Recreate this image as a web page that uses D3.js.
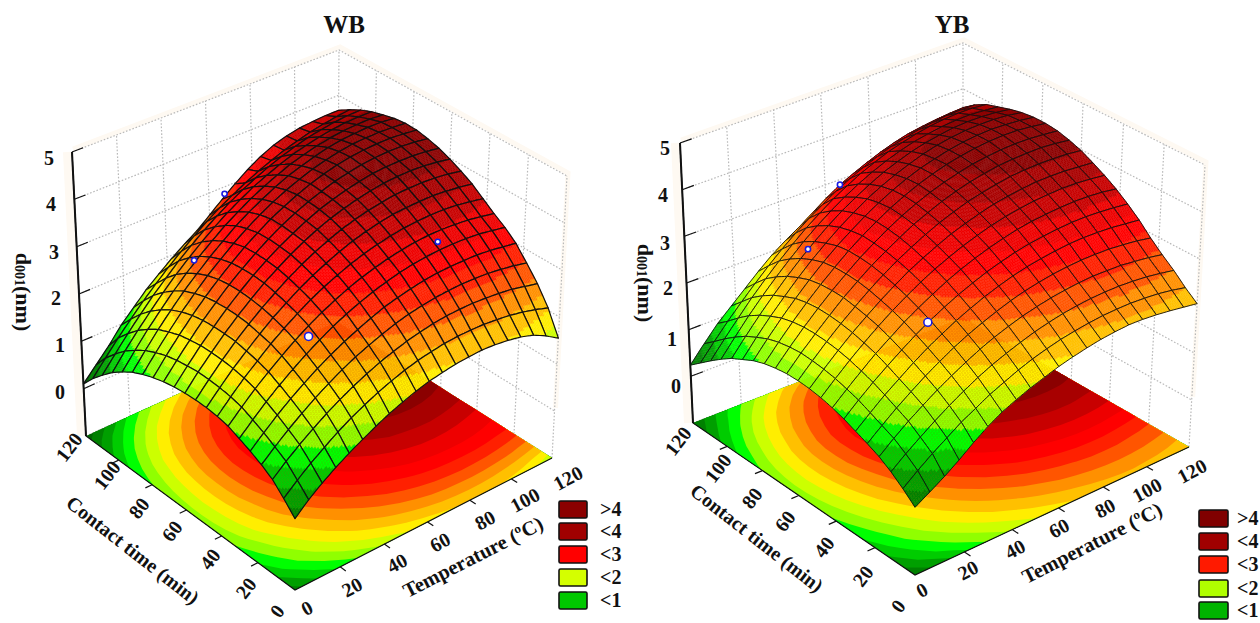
<!DOCTYPE html>
<html>
<head>
<meta charset="utf-8">
<script src="https://cdn.jsdelivr.net/npm/d3@7"></script>
<style>
  html, body { margin: 0; padding: 0; background: #fff; overflow: hidden; }
  svg { display: block; }
  text { font-family: "Liberation Serif", serif; font-weight: bold; fill: #111; }
</style>
</head>
<body>
<svg id="chart" width="1260" height="623"></svg>
<script>
const tempTicks = [0, 20, 40, 60, 80, 100, 120];
const timeTicks = [0, 20, 40, 60, 80, 100, 120];
const zTicks = [0, 1, 2, 3, 4, 5];
const legendLabels = [">4", "<4", "<3", "<2", "<1"];
const wbLegendColors = ["#8b0000", "#a00000", "#ff0000", "#d4ff00", "#00c800"];
const ybLegendColors = ["#800000", "#a00000", "#ff1a00", "#b0ff00", "#00b400"];

const bandLevels = [0.25, 0.5, 0.75, 1, 1.25, 1.5, 1.75, 2, 2.25, 2.5, 2.75, 3, 3.25, 3.5, 3.75, 4];
const bandColors = ["#006400", "#008000", "#009f00", "#00cc00", "#00ff00", "#90ff00", "#ccff00", "#ffee00",
  "#ffc000", "#ff9000", "#ff5500", "#ff2000", "#ff0000", "#ee0000", "#c80000", "#a80000", "#8b0000"];

// d001, one row per contact time step (0..120 by 6), one column per temperature step
const wbValues = [
  [0.38,0.62,0.82,1.00,1.16,1.31,1.45,1.58,1.69,1.79,1.87,1.93,1.98,2.01,2.03,2.02,1.99,1.94,1.86,1.72,1.55],
  [0.62,0.85,1.06,1.25,1.43,1.59,1.73,1.86,1.97,2.07,2.15,2.21,2.26,2.29,2.30,2.30,2.28,2.25,2.20,2.13,2.05],
  [0.84,1.07,1.28,1.47,1.65,1.81,1.96,2.09,2.21,2.31,2.40,2.47,2.53,2.57,2.59,2.60,2.59,2.57,2.54,2.48,2.42],
  [0.98,1.21,1.43,1.63,1.82,1.99,2.15,2.29,2.41,2.52,2.62,2.70,2.76,2.81,2.84,2.86,2.86,2.85,2.82,2.78,2.72],
  [1.10,1.34,1.57,1.78,1.97,2.15,2.31,2.46,2.59,2.71,2.82,2.90,2.97,3.03,3.07,3.09,3.10,3.10,3.08,3.04,3.00],
  [1.20,1.45,1.69,1.91,2.11,2.30,2.47,2.63,2.77,2.89,3.00,3.09,3.17,3.23,3.27,3.30,3.31,3.31,3.29,3.25,3.20],
  [1.30,1.56,1.81,2.03,2.24,2.44,2.62,2.78,2.92,3.05,3.16,3.25,3.33,3.39,3.44,3.47,3.48,3.47,3.45,3.41,3.36],
  [1.35,1.62,1.88,2.11,2.34,2.54,2.73,2.90,3.05,3.18,3.30,3.40,3.48,3.55,3.60,3.63,3.65,3.65,3.63,3.59,3.54],
  [1.38,1.66,1.93,2.17,2.40,2.62,2.81,2.99,3.15,3.29,3.42,3.53,3.62,3.69,3.75,3.78,3.80,3.81,3.79,3.76,3.72],
  [1.39,1.68,1.96,2.22,2.46,2.68,2.88,3.07,3.24,3.39,3.52,3.64,3.73,3.81,3.87,3.92,3.94,3.95,3.94,3.91,3.86],
  [1.38,1.69,1.97,2.24,2.49,2.72,2.94,3.13,3.31,3.47,3.61,3.73,3.83,3.91,3.98,4.03,4.06,4.07,4.06,4.03,3.98],
  [1.36,1.67,1.97,2.24,2.50,2.74,2.96,3.16,3.34,3.50,3.65,3.78,3.88,3.97,4.04,4.10,4.13,4.14,4.14,4.12,4.08],
  [1.32,1.64,1.94,2.23,2.49,2.74,2.96,3.17,3.36,3.53,3.68,3.81,3.92,4.02,4.09,4.15,4.19,4.21,4.21,4.19,4.15],
  [1.26,1.59,1.90,2.19,2.46,2.71,2.94,3.16,3.35,3.53,3.68,3.82,3.94,4.04,4.12,4.18,4.22,4.24,4.25,4.23,4.20],
  [1.18,1.51,1.82,2.12,2.39,2.65,2.88,3.10,3.30,3.48,3.64,3.78,3.90,4.01,4.09,4.16,4.21,4.23,4.24,4.23,4.21],
  [1.08,1.41,1.73,2.02,2.30,2.55,2.79,3.01,3.22,3.40,3.56,3.71,3.84,3.94,4.03,4.11,4.16,4.19,4.21,4.21,4.18],
  [0.94,1.27,1.59,1.88,2.16,2.42,2.66,2.88,3.09,3.27,3.44,3.59,3.72,3.84,3.93,4.01,4.07,4.11,4.13,4.14,4.12],
  [0.78,1.11,1.42,1.71,1.99,2.25,2.49,2.71,2.92,3.11,3.28,3.44,3.57,3.69,3.80,3.88,3.95,4.00,4.04,4.05,4.05],
  [0.58,0.90,1.21,1.50,1.78,2.03,2.28,2.50,2.71,2.90,3.08,3.24,3.38,3.51,3.62,3.72,3.80,3.86,3.91,3.94,3.95],
  [0.36,0.67,0.97,1.25,1.52,1.77,2.01,2.23,2.44,2.64,2.82,2.98,3.13,3.27,3.39,3.50,3.59,3.67,3.73,3.78,3.82],
  [0.10,0.38,0.66,0.98,1.24,1.50,1.72,1.93,2.12,2.30,2.52,2.75,2.97,3.17,3.34,3.47,3.56,3.62,3.65,3.67,3.67],
];

const ybValues = [
  [0.31,0.48,0.66,0.86,1.08,1.28,1.45,1.58,1.70,1.80,1.90,1.98,2.05,2.11,2.15,2.18,2.18,2.16,2.13,2.09,2.05],
  [0.52,0.75,0.96,1.15,1.34,1.50,1.66,1.79,1.92,2.03,2.12,2.20,2.26,2.31,2.35,2.37,2.38,2.37,2.35,2.31,2.25],
  [0.70,0.93,1.14,1.34,1.53,1.70,1.86,2.00,2.12,2.23,2.33,2.41,2.48,2.53,2.57,2.59,2.60,2.59,2.57,2.53,2.48],
  [0.85,1.09,1.31,1.51,1.70,1.87,2.03,2.18,2.31,2.42,2.52,2.60,2.67,2.72,2.76,2.79,2.79,2.79,2.76,2.73,2.68],
  [0.96,1.20,1.43,1.64,1.84,2.02,2.19,2.34,2.47,2.59,2.70,2.79,2.86,2.92,2.96,2.99,3.00,3.00,2.98,2.95,2.90],
  [1.06,1.31,1.55,1.76,1.97,2.16,2.33,2.49,2.63,2.76,2.87,2.97,3.05,3.11,3.16,3.20,3.22,3.22,3.21,3.18,3.15],
  [1.16,1.42,1.66,1.88,2.09,2.29,2.47,2.63,2.78,2.91,3.03,3.13,3.22,3.29,3.34,3.38,3.41,3.42,3.41,3.39,3.36],
  [1.24,1.50,1.75,1.99,2.20,2.41,2.59,2.76,2.92,3.06,3.18,3.29,3.38,3.46,3.52,3.56,3.59,3.61,3.61,3.59,3.55],
  [1.30,1.57,1.83,2.07,2.30,2.51,2.70,2.88,3.04,3.18,3.31,3.42,3.52,3.60,3.66,3.71,3.74,3.76,3.76,3.74,3.71],
  [1.34,1.62,1.89,2.14,2.37,2.59,2.79,2.98,3.14,3.29,3.43,3.54,3.64,3.73,3.79,3.84,3.88,3.89,3.89,3.87,3.85],
  [1.36,1.65,1.93,2.19,2.43,2.66,2.87,3.06,3.23,3.39,3.53,3.65,3.76,3.84,3.91,3.97,4.00,4.02,4.02,4.01,3.98],
  [1.36,1.67,1.95,2.22,2.48,2.71,2.93,3.12,3.30,3.47,3.61,3.74,3.85,3.94,4.01,4.07,4.10,4.12,4.13,4.11,4.07],
  [1.33,1.65,1.95,2.23,2.49,2.73,2.96,3.16,3.35,3.52,3.67,3.80,3.91,4.00,4.08,4.13,4.17,4.19,4.19,4.17,4.14],
  [1.28,1.61,1.92,2.21,2.48,2.73,2.97,3.18,3.37,3.55,3.70,3.84,3.95,4.05,4.12,4.18,4.22,4.24,4.24,4.21,4.17],
  [1.20,1.54,1.86,2.16,2.44,2.70,2.94,3.15,3.35,3.53,3.69,3.83,3.95,4.04,4.12,4.18,4.22,4.24,4.23,4.21,4.17],
  [1.08,1.43,1.76,2.06,2.35,2.62,2.86,3.09,3.29,3.48,3.64,3.78,3.90,4.01,4.09,4.15,4.19,4.21,4.21,4.19,4.14],
  [0.96,1.31,1.64,1.95,2.24,2.51,2.76,2.99,3.20,3.38,3.55,3.70,3.82,3.93,4.01,4.07,4.12,4.14,4.14,4.12,4.08],
  [0.80,1.15,1.49,1.80,2.09,2.36,2.62,2.85,3.06,3.25,3.42,3.57,3.70,3.81,3.90,3.96,4.01,4.04,4.05,4.03,4.00],
  [0.62,0.97,1.30,1.62,1.91,2.18,2.43,2.67,2.88,3.08,3.25,3.41,3.54,3.66,3.75,3.83,3.89,3.93,3.95,3.95,3.92],
  [0.43,0.77,1.09,1.39,1.67,1.94,2.19,2.42,2.63,2.82,3.00,3.16,3.30,3.42,3.53,3.61,3.68,3.73,3.77,3.78,3.78],
  [0.24,0.58,0.90,1.16,1.42,1.68,1.92,2.12,2.30,2.50,2.70,2.88,3.02,3.15,3.27,3.37,3.45,3.50,3.54,3.57,3.59],
];

// measured points as [temperature, contact time, d001]
const wbPoints = [[36, 36, 2.4], [32, 94, 2.7], [90, 31, 3.45], [64, 116, 3.0]];
const ybPoints = [[35, 36, 2.45], [30, 92, 2.8], [64, 117, 3.0]];

const svg = d3.select("#chart");
const steps = wbValues.length - 1;
const subSteps = 8;

const tempScale = d3.scaleLinear().domain([0, 120]).range([0, 1]);
const timeScale = d3.scaleLinear().domain([0, 120]).range([0, 1]);
const zScale = d3.scaleLinear().domain([-1, 5]).range([0, 1]);
const gridScale = d3.scaleLinear().domain([0, steps]).range([0, 120]);
const bandColor = d3.scaleThreshold().domain(bandLevels).range(bandColors);

// unit square onto a quad, corners in the order (0,0) (1,0) (1,1) (0,1)
const squareToQuad = ([p0, p1, p2, p3]) => {
  const dx1 = p1[0] - p2[0], dx2 = p3[0] - p2[0], sx = p0[0] - p1[0] + p2[0] - p3[0];
  const dy1 = p1[1] - p2[1], dy2 = p3[1] - p2[1], sy = p0[1] - p1[1] + p2[1] - p3[1];
  const den = dx1 * dy2 - dx2 * dy1;
  const g = (sx * dy2 - dx2 * sy) / den;
  const h = (dx1 * sy - sx * dy1) / den;
  const a = p1[0] - p0[0] + g * p1[0], b = p3[0] - p0[0] + h * p3[0];
  const d = p1[1] - p0[1] + g * p1[1], e = p3[1] - p0[1] + h * p3[1];
  return (u, v) => {
    const w = g * u + h * v + 1;
    return [(a * u + b * v + p0[0]) / w, (d * u + e * v + p0[1]) / w];
  };
};

const polyPath = (pts) => "M" + pts.map((p) => p[0].toFixed(1) + "," + p[1].toFixed(1)).join("L") + "Z";
const linePath = (pts) => "M" + pts.map((p) => p[0].toFixed(1) + "," + p[1].toFixed(1)).join("L");

const drawPanel = (cfg) => {
  const g = svg.append("g");
  const floorAt = squareToQuad(cfg.floor);
  const topAt = squareToQuad(cfg.top);
  const values = cfg.values;

  const project = (temp, time, z) => {
    const u = tempScale(temp), v = timeScale(time), k = zScale(z);
    const a = floorAt(u, v), b = topAt(u, v);
    return [a[0] + (b[0] - a[0]) * k, a[1] + (b[1] - a[1]) * k];
  };

  // pale halo along the walls, left by the scan of the original
  g.append("path")
    .attr("d", linePath([project(0, 120, 5), project(120, 120, 5), project(120, 0, 5), project(120, 0, 0)]))
    .attr("transform", "translate(1,-3)")
    .attr("fill", "none").attr("stroke", "#fef9f2").attr("stroke-width", 5);
  g.append("path")
    .attr("d", linePath([project(0, 120, 5), project(0, 120, -1)]))
    .attr("transform", "translate(-5,0)")
    .attr("fill", "none").attr("stroke", "#fef9f2").attr("stroke-width", 8);

  // dotted wall grid
  const wallPaths = [];
  [-1].concat(zTicks).forEach((z) => {
    wallPaths.push([project(0, 120, z), project(120, 120, z), project(120, 0, z)]);
  });
  tempTicks.slice(1).forEach((d) => wallPaths.push([project(d, 120, -1), project(d, 120, 5)]));
  timeTicks.slice(0, -1).forEach((d) => wallPaths.push([project(120, d, -1), project(120, d, 5)]));
  g.append("g").selectAll("path").data(wallPaths).enter().append("path")
    .attr("d", linePath)
    .attr("fill", "none").attr("stroke", "#b9b9b9")
    .attr("stroke-width", 1.2).attr("stroke-dasharray", "1.6 1.8");

  // floor contours from the same grid
  const flat = values.flat();
  const contours = d3.contours().size([steps + 1, steps + 1]).thresholds(bandLevels)(flat);
  const floorG = g.append("g");
  const toFloor = ([x, y]) => {
    const temp = gridScale(Math.max(0, Math.min(steps, x - 0.5)));
    const time = gridScale(Math.max(0, Math.min(steps, y - 0.5)));
    return project(temp, time, -1);
  };
  floorG.append("path")
    .attr("d", polyPath([project(0, 0, -1), project(120, 0, -1), project(120, 120, -1), project(0, 120, -1)]))
    .attr("fill", bandColors[0]);
  contours.forEach((c) => {
    if (!c.coordinates.length) return;
    const d = c.coordinates.map((poly) => poly.map((ring) => polyPath(ring.map(toFloor))).join("")).join("");
    floorG.append("path").attr("d", d).attr("fill", bandColor(c.value)).attr("fill-rule", "evenodd");
  });

  // axes
  g.append("path")
    .attr("d", linePath([project(0, 120, 5), project(0, 120, -1), project(0, 0, -1), project(120, 0, -1)]))
    .attr("fill", "none").attr("stroke", "#111").attr("stroke-width", 1.2);
  g.append("path")
    .attr("d", linePath([project(0, 120, 5), project(0, 120, -1)]))
    .attr("fill", "none").attr("stroke", "#111").attr("stroke-width", 2);
  zTicks.forEach((z) => {
    g.append("path")
      .attr("d", linePath([project(0, 120, z), project(5, 120, z)]))
      .attr("stroke", "#111").attr("stroke-width", 1.2);
  });
  tempTicks.slice(1, -1).forEach((d) => {
    g.append("path").attr("d", linePath([project(d, 0, -1), project(d, -3, -1)]))
      .attr("stroke", "#111").attr("stroke-width", 1.2);
  });
  timeTicks.slice(1, -1).forEach((d) => {
    g.append("path").attr("d", linePath([project(0, d, -1), project(-3, d, -1)]))
      .attr("stroke", "#111").attr("stroke-width", 1.2);
  });

  // surface, painted from the back corner forwards
  const cells = [];
  d3.range(steps).forEach((j) => d3.range(steps).forEach((i) => cells.push([i, j])));
  cells.sort((a, b) => b[0] + b[1] - a[0] - a[1]);
  const surface = g.append("g");
  cells.forEach(([i, j]) => {
    const q00 = values[j][i], q10 = values[j][i + 1], q01 = values[j + 1][i], q11 = values[j + 1][i + 1];
    const at = (s, r) => project(
      gridScale(i + s), gridScale(j + r),
      q00 * (1 - s) * (1 - r) + q10 * s * (1 - r) + q01 * (1 - s) * r + q11 * s * r
    );
    d3.range(subSteps).forEach((a) => d3.range(subSteps).forEach((b) => {
      const s0 = a / subSteps, s1 = (a + 1) / subSteps, r0 = b / subSteps, r1 = (b + 1) / subSteps;
      const sm = (s0 + s1) / 2, rm = (r0 + r1) / 2;
      const z = q00 * (1 - sm) * (1 - rm) + q10 * sm * (1 - rm) + q01 * (1 - sm) * rm + q11 * sm * rm;
      const col = bandColor(z);
      surface.append("path")
        .attr("d", polyPath([at(s0, r0), at(s1, r0), at(s1, r1), at(s0, r1)]))
        .attr("fill", col).attr("stroke", col).attr("stroke-width", 0.4);
    }));
    const outline = [];
    d3.range(0, 1.001, 0.25).forEach((s) => outline.push(at(s, 0)));
    d3.range(0.25, 1.001, 0.25).forEach((r) => outline.push(at(1, r)));
    d3.range(0.75, -0.001, -0.25).forEach((s) => outline.push(at(s, 1)));
    d3.range(0.75, 0.001, -0.25).forEach((r) => outline.push(at(0, r)));
    surface.append("path").attr("d", polyPath(outline))
      .attr("fill", "none").attr("stroke", "#111")
      .attr("stroke-width", cfg.meshWidth).attr("stroke-linejoin", "round");
  });

  // measured points
  g.append("g").selectAll("circle").data(cfg.points).enter().append("circle")
    .attr("cx", (d) => project(d[0], d[1], d[2])[0])
    .attr("cy", (d) => project(d[0], d[1], d[2])[1])
    .attr("r", (d, i) => (i === 0 ? 4 : 2.6))
    .attr("fill", "#fff").attr("stroke", "#1a1ae0").attr("stroke-width", 1.6);

  // text
  g.append("text").attr("x", cfg.titleX).attr("y", 33).attr("text-anchor", "middle")
    .attr("font-size", 25).text(cfg.title);

  const rotated = (x, y, rot, size, txt) => g.append("text")
    .attr("transform", `translate(${x},${y}) rotate(${rot})`)
    .attr("text-anchor", "middle").attr("dominant-baseline", "central")
    .attr("font-size", size).text(txt);

  zTicks.forEach((d, i) => rotated(cfg.zLabels[i][0], cfg.zLabels[i][1], 0, 20, d));
  tempTicks.forEach((d, i) => rotated(cfg.tempLabels[i][0], cfg.tempLabels[i][1], -28, 20, d));
  timeTicks.forEach((d, i) => rotated(cfg.timeLabels[i][0], cfg.timeLabels[i][1], -52, 20, d));
  rotated(cfg.tempTitle[0], cfg.tempTitle[1], -27, 20.5, "Temperature (ºC)");
  rotated(cfg.timeTitle[0], cfg.timeTitle[1], 38, 20, "Contact time (min)");

  const yLabel = g.append("text")
    .attr("transform", `translate(${cfg.zTitle[0]},${cfg.zTitle[1]}) rotate(90)`)
    .attr("text-anchor", "middle").attr("dominant-baseline", "central").attr("font-size", 22);
  yLabel.append("tspan").text("d");
  yLabel.append("tspan").attr("font-size", 14).attr("dy", 4).text("001");
  yLabel.append("tspan").attr("dy", -4).text("(nm)");

  // legend
  legendLabels.forEach((d, i) => {
    const [x, y] = cfg.legend[i];
    g.append("rect").attr("x", x).attr("y", y).attr("width", cfg.legendW).attr("height", 17)
      .attr("rx", 1.5).attr("fill", cfg.legendColors[i]).attr("stroke", "#111").attr("stroke-width", 1.6);
    g.append("text").attr("x", x + cfg.legendW + cfg.legendGap).attr("y", y + 15).attr("font-size", 20).text(d);
  });
};

drawPanel({
  title: "WB", titleX: 344, values: wbValues, points: wbPoints, meshWidth: 1.2,
  floor: [[295, 590], [552, 458], [337, 322], [86, 436]],
  top: [[295, 280], [567, 176], [339, 50], [72, 152]],
  zLabels: [[60, 392], [60, 345], [56, 298], [54, 252], [51, 204], [49, 158]],
  tempLabels: [[307, 608], [352, 587], [397, 563], [440, 542], [485, 520], [525, 500], [568, 478]],
  timeLabels: [[277, 611], [246, 588], [210, 559], [172, 531], [139, 508], [107, 475], [69, 447]],
  tempTitle: [473, 557], timeTitle: [133, 550], zTitle: [24, 292],
  legend: [[559, 501], [559, 523], [559, 546], [559, 569], [559, 592]], legendW: 28, legendGap: 13,
  legendColors: wbLegendColors,
});

drawPanel({
  title: "YB", titleX: 952, values: ybValues, points: ybPoints, meshWidth: 0.9,
  floor: [[915, 575], [1189, 447], [963, 318], [693, 423]],
  top: [[915, 265], [1205, 165], [963, 43], [680, 143]],
  zLabels: [[676, 386], [672, 339], [668, 288], [665, 243], [663, 195], [665, 148]],
  tempLabels: [[922, 590], [968, 570], [1015, 549], [1059, 528], [1105, 508], [1147, 490], [1192, 471]],
  timeLabels: [[898, 606], [863, 576], [824, 547], [785, 521], [752, 498], [718, 468], [678, 441]],
  tempTitle: [1092, 543], timeTitle: [757, 538], zTitle: [646, 283],
  legend: [[1199, 510], [1199, 533], [1199, 556], [1199, 580], [1199, 602]], legendW: 29, legendGap: 9,
  legendColors: ybLegendColors,
});
</script>
</body>
</html>
